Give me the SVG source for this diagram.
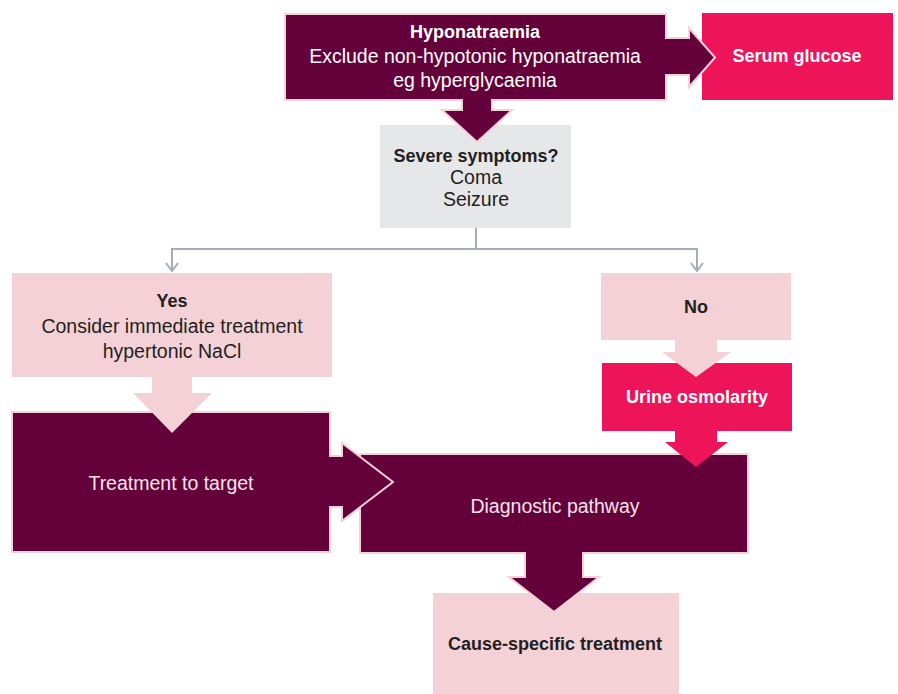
<svg xmlns="http://www.w3.org/2000/svg" width="898" height="694" viewBox="0 0 898 694">
<style>
text{font-family:"Liberation Sans",Arial,sans-serif;text-anchor:middle}
.r{font-size:19.5px}
.b{font-size:18px;font-weight:bold}
.dk{fill:#231f20}
.wt{fill:#ffffff}
.lt{fill:#f6e4e8}
.dark{fill:#64003a;stroke:#f3d1d6;stroke-width:2;stroke-linejoin:miter}
.pale{fill:#f3d1d6}
.hot{fill:#ed1459}
.grey{fill:#e6e7e9}
.conn{fill:none;stroke:#a3afb7;stroke-width:2}
</style>
<defs>
<marker id="chev" viewBox="0 0 10 14" refX="9" refY="7" markerWidth="10" markerHeight="14" markerUnits="userSpaceOnUse" orient="auto">
<polyline points="1,1 9,7 1,13" fill="none" stroke="#a3afb7" stroke-width="2"/>
</marker>
</defs>
<g id="serum">
<rect class="hot" x="702" y="13" width="191" height="87"/>
<text class="b wt" x="797" y="62">Serum glucose</text>
</g>
<g id="severe">
<rect class="grey" x="380" y="125" width="191" height="103"/>
<text class="b dk" x="476" y="162">Severe symptoms?</text>
<text class="r dk" x="476" y="184">Coma</text>
<text class="r dk" x="476" y="206">Seizure</text>
</g>
<g id="hyponatraemia">
<path class="dark" d="M285,14 H666 V38 H689 V28 L715,57.5 L689,87 V75 H666 V100 H492 V110 H512 L477,142 L442,110 H462 V100 H285 Z"/>
<text class="b wt" x="475" y="38">Hyponatraemia</text>
<text class="r wt" x="475" y="63">Exclude non-hypotonic hyponatraemia</text>
<text class="r wt" x="475" y="87">eg hyperglycaemia</text>
</g>
<g id="connectors">
<path class="conn" d="M476,228 V249 M171,249 H698"/>
<path class="conn" d="M172,249 V271" marker-end="url(#chev)"/>
<path class="conn" d="M697,249 V271" marker-end="url(#chev)"/>
</g>
<g id="cause">
<rect class="pale" x="433" y="593" width="246" height="101"/>
<text class="b dk" x="555" y="650">Cause-specific treatment</text>
</g>
<g id="diagnostic">
<path class="dark" d="M360,454 H748 V553 H583 V577 H599 L554,612 L509,577 H525 V553 H360 Z"/>
<text class="r lt" x="555" y="513">Diagnostic pathway</text>
</g>
<g id="treatment">
<path class="dark" d="M12,412 H330 V456 H342 V443 L393,482 L342,521 V507 H330 V552 H12 Z"/>
<text class="r lt" x="171" y="490">Treatment to target</text>
</g>
<g id="yes">
<rect class="pale" x="12" y="273" width="320" height="104"/>
<polygon class="pale" points="152,376 192,376 192,393 212,393 172,433 133,393 152,393"/>
<text class="b dk" x="172" y="307">Yes</text>
<text class="r dk" x="172" y="333">Consider immediate treatment</text>
<text class="r dk" x="172" y="358">hypertonic NaCl</text>
</g>
<g id="urine">
<rect class="hot" x="602" y="363" width="190" height="68"/>
<polygon class="hot" points="675,430 717,430 717,442 728,442 696,467 665,442 675,442"/>
<text class="b wt" x="697" y="403">Urine osmolarity</text>
</g>
<g id="no">
<rect class="pale" x="601" y="273" width="190" height="67"/>
<polygon class="pale" points="675,339 717,339 717,352 731,352 696,377 662,352 675,352"/>
<text class="b dk" x="696" y="313">No</text>
</g>
</svg>
